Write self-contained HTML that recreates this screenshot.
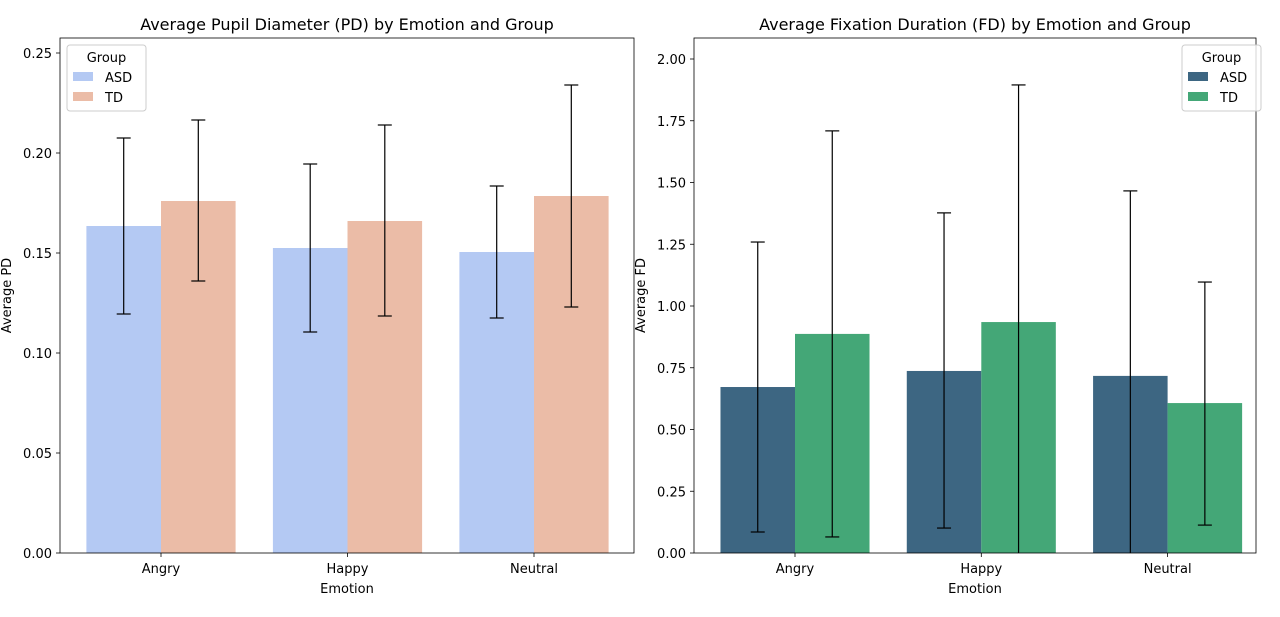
<!DOCTYPE html>
<html><head><meta charset="utf-8"><style>
body{margin:0;background:#fff;font-family:"Liberation Sans","DejaVu Sans",sans-serif}
svg text{font-family:"DejaVu Sans","Liberation Sans",sans-serif}
</style></head><body>
<svg id="c" width="1280" height="612" xmlns="http://www.w3.org/2000/svg">
<defs>
<clipPath id="cl1"><rect x="60" y="38" width="574" height="515"/></clipPath>
<clipPath id="cl2"><rect x="694" y="38" width="562" height="515"/></clipPath>
</defs>
</svg>
<script>
const categories=["Angry","Happy","Neutral"];
const groups=["ASD","TD"];
const pdASD=[0.1635,0.1525,0.1505];
const pdTD=[0.176,0.166,0.1785];
const pdASDLo=[0.1195,0.1105,0.1175];
const pdASDHi=[0.2075,0.1945,0.1835];
const pdTDLo=[0.136,0.1185,0.123];
const pdTDHi=[0.2165,0.214,0.234];
const pdTicks=[0,0.05,0.10,0.15,0.20,0.25];
const fdASD=[0.672,0.737,0.717];
const fdTD=[0.887,0.935,0.607];
const fdASDLo=[0.085,0.101,-0.05];
const fdASDHi=[1.259,1.377,1.466];
const fdTDLo=[0.065,-0.05,0.113];
const fdTDHi=[1.709,1.895,1.097];
const fdTicks=[0,0.25,0.5,0.75,1.0,1.25,1.5,1.75,2.0];

const NS="http://www.w3.org/2000/svg";
const svg=document.getElementById('c');
function mk(tag,at,parent,txt){const e=document.createElementNS(NS,tag);for(const k in at)e.setAttribute(k,at[k]);if(txt!==undefined)e.textContent=txt;(parent||svg).appendChild(e);return e;}

function panel(o){
  const g=mk('g',{});
  
  
  const y=v=>o.y0-v*o.ys;
  const x=i=>o.c0+i*o.cu;
  const bw=o.cu*0.4;
  o.ticks.forEach(t=>{
    mk('line',{x1:o.L-4,x2:o.L,y1:y(t),y2:y(t),stroke:'#000','stroke-width':0.8},g);
    const tx=mk('text',{x:o.L-8,y:y(t)+5,'text-anchor':'end','font-size':13},g,t.toFixed(2));
    
    
  });
  const bars=mk('g',{'clip-path':`url(#${o.clip})`},g);
  const series=[[o.a,o.aLo,o.aHi,o.ca,-1],[o.b,o.bLo,o.bHi,o.cb,0]];
  series.forEach((s,si)=>{
    s[0].forEach((v,i)=>{
      const bx=x(i)+s[4]*bw;
      const r=mk('rect',{x:bx,y:y(v),width:bw,height:y(0)-y(v),fill:s[3]},bars);
      
      
    });
  });
  series.forEach((s,si)=>{
    s[0].forEach((v,i)=>{
      const cx=x(i)+s[4]*bw+bw/2;
      const e=mk('g',{stroke:'#000','stroke-width':1.2},bars);
      
      
      mk('line',{x1:cx,x2:cx,y1:y(s[1][i]),y2:y(s[2][i])},e);
      mk('line',{x1:cx-7,x2:cx+7,y1:y(s[1][i]),y2:y(s[1][i])},e);
      mk('line',{x1:cx-7,x2:cx+7,y1:y(s[2][i]),y2:y(s[2][i])},e);
    });
  });
  categories.forEach((c,i)=>{
    mk('line',{x1:x(i),x2:x(i),y1:o.B,y2:o.B+4,stroke:'#000','stroke-width':0.8},g);
    const t=mk('text',{x:x(i),y:o.B+20,'text-anchor':'middle','font-size':13},g,c);
    
    
  });
  mk('rect',{x:o.L,y:o.T,width:o.R-o.L,height:o.B-o.T,fill:'none',stroke:'#000','stroke-width':0.8},g);
  const tt=mk('text',{x:(o.L+o.R)/2,y:o.T-8,'text-anchor':'middle','font-size':16},g,o.title);
  
  
  const xl=mk('text',{x:(o.L+o.R)/2,y:o.B+40,'text-anchor':'middle','font-size':13},g,'Emotion');
  
  
  const yl=mk('text',{x:0,y:0,'text-anchor':'middle','font-size':13,transform:`translate(${o.L-49},${(o.T+o.B)/2}) rotate(-90)`},g,o.ylab);
  
  
  const lg=mk('g',{},g);
  
  
  mk('rect',{x:o.lx,y:45,width:79,height:66,rx:3,fill:'#fff','fill-opacity':0.8,stroke:'#ccc'},lg);
  mk('text',{x:o.lx+39.5,y:62,'text-anchor':'middle','font-size':13},lg,'Group');
  [o.ca,o.cb].forEach((c,k)=>{
    const ent=mk('g',{},lg);
    
    
    mk('rect',{x:o.lx+6,y:72+k*20,width:20,height:9,fill:c},ent);
    mk('text',{x:o.lx+38,y:82+k*20,'font-size':13},ent,groups[k]);
  });
}
panel({name:'pd-chart',L:60,R:634,T:38,B:553,y0:553,ys:2000,c0:161,cu:186.5,ticks:pdTicks,
  a:pdASD,aLo:pdASDLo,aHi:pdASDHi,b:pdTD,bLo:pdTDLo,bHi:pdTDHi,ca:'#b4c9f3',cb:'#ebbca7',clip:'cl1',
  title:'Average Pupil Diameter (PD) by Emotion and Group',ylab:'Average PD',lx:67});
panel({name:'fd-chart',L:694,R:1256,T:38,B:553,y0:553,ys:247,c0:795,cu:186.3,ticks:fdTicks,
  a:fdASD,aLo:fdASDLo,aHi:fdASDHi,b:fdTD,bLo:fdTDLo,bHi:fdTDHi,ca:'#3d6682',cb:'#44a777',clip:'cl2',
  title:'Average Fixation Duration (FD) by Emotion and Group',ylab:'Average FD',lx:1182});
</script>
</body></html>
